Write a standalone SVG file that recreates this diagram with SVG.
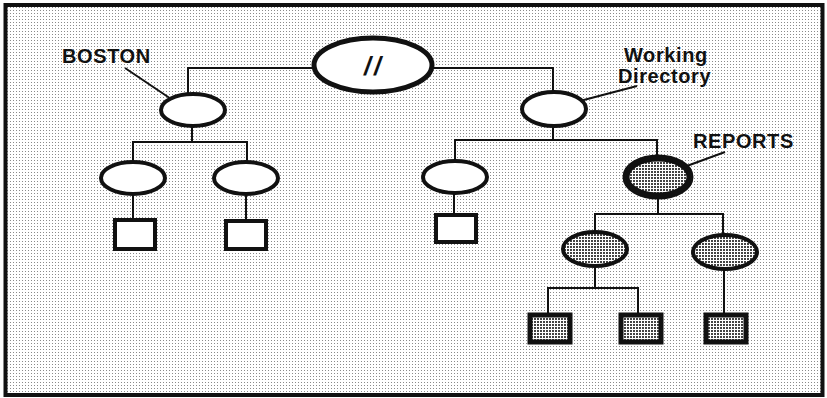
<svg xmlns="http://www.w3.org/2000/svg" width="827" height="398" viewBox="0 0 827 398">
<defs>
<pattern id="bgdots" width="3" height="3" patternUnits="userSpaceOnUse"><rect width="3" height="3" fill="#ffffff"/><rect x="1" y="1" width="1" height="1" fill="#8a8a8a"/></pattern>
<pattern id="shade" width="3" height="3" patternUnits="userSpaceOnUse"><rect width="3" height="3" fill="#ffffff"/><rect x="0" y="0" width="2" height="2" fill="#444444"/></pattern>
</defs>
<style>
.dir{fill:#ffffff;stroke:#111111;stroke-width:4}
.dirs{fill:url(#shade);stroke:#111111;stroke-width:4}
.file{fill:#ffffff;stroke:#111111;stroke-width:4}
.files{fill:url(#shade);stroke:#111111;stroke-width:5}
.conn{fill:none;stroke:#111111;stroke-width:2}
.lbl{font-family:"Liberation Sans",Arial,sans-serif;font-weight:bold;font-size:20px;letter-spacing:0.6px;fill:#111111}
</style>
<rect x="0" y="0" width="827" height="398" fill="#ffffff"/>
<rect x="5.5" y="5" width="817" height="390" fill="url(#bgdots)" stroke="#111111" stroke-width="4"/>
<g id="connectors">
<polyline class="conn" points="313,68 188,68 188,93"/>
<polyline class="conn" points="433,68 553,68 553,92"/>
<polyline class="conn" points="192,127 192,142"/>
<polyline class="conn" points="133,162 133,142 247,142 247,162"/>
<line class="conn" x1="133" y1="195" x2="133" y2="218"/>
<line class="conn" x1="246" y1="195" x2="246" y2="219"/>
<polyline class="conn" points="553,126 553,140"/>
<polyline class="conn" points="455,160 455,140 657,140 657,156"/>
<line class="conn" x1="454" y1="194" x2="454" y2="213"/>
<line class="conn" x1="658" y1="199" x2="658" y2="214"/>
<polyline class="conn" points="595,231 595,214 723,214 723,234"/>
<line class="conn" x1="595" y1="267" x2="595" y2="288"/>
<polyline class="conn" points="548,313 548,288 638,288 638,313"/>
<line class="conn" x1="724" y1="270" x2="724" y2="313"/>
<line class="conn" x1="125" y1="68" x2="180" y2="105"/>
<line class="conn" x1="637" y1="86" x2="557" y2="107"/>
<line class="conn" x1="725" y1="152" x2="665" y2="174"/>
</g>
<g id="root"><ellipse cx="373" cy="65" rx="59" ry="27" fill="#ffffff" stroke="#111111" stroke-width="5"/><text x="374" y="75" font-family="Liberation Sans,Arial,sans-serif" font-size="25" font-weight="bold" letter-spacing="3" text-anchor="middle" fill="#111111" font-style="italic">//</text></g>
<g id="boston"><ellipse class="dir" cx="193" cy="110" rx="32" ry="16"/><text class="lbl" x="62" y="63">BOSTON</text></g>
<g id="boston-a"><ellipse class="dir" cx="133" cy="178" rx="32" ry="16"/></g>
<g id="boston-b"><ellipse class="dir" cx="246" cy="178" rx="32" ry="16"/></g>
<g id="boston-a-file"><rect class="file" x="115" y="220" width="40" height="29"/></g>
<g id="boston-b-file"><rect class="file" x="226" y="221" width="40" height="28"/></g>
<g id="working"><ellipse class="dir" cx="554" cy="109" rx="32" ry="17"/><text class="lbl" x="624" y="62">Working</text><text class="lbl" x="618" y="83">Directory</text></g>
<g id="wd-a"><ellipse class="dir" cx="455" cy="177" rx="32" ry="16"/></g>
<g id="wd-a-file"><rect class="file" x="436" y="215" width="40" height="27"/></g>
<g id="reports"><ellipse cx="658" cy="177" rx="32" ry="19" fill="url(#shade)" stroke="#111111" stroke-width="7"/><text class="lbl" x="693" y="148">REPORTS</text></g>
<g id="rep-a"><ellipse class="dirs" cx="595" cy="249" rx="32" ry="17"/></g>
<g id="rep-b"><ellipse class="dirs" cx="725" cy="252" rx="32" ry="17"/></g>
<g id="rep-a-file1"><rect class="files" x="530" y="315" width="40" height="27"/></g>
<g id="rep-a-file2"><rect class="files" x="621" y="315" width="40" height="27"/></g>
<g id="rep-b-file"><rect class="files" x="706" y="315" width="40" height="27"/></g>
</svg>
